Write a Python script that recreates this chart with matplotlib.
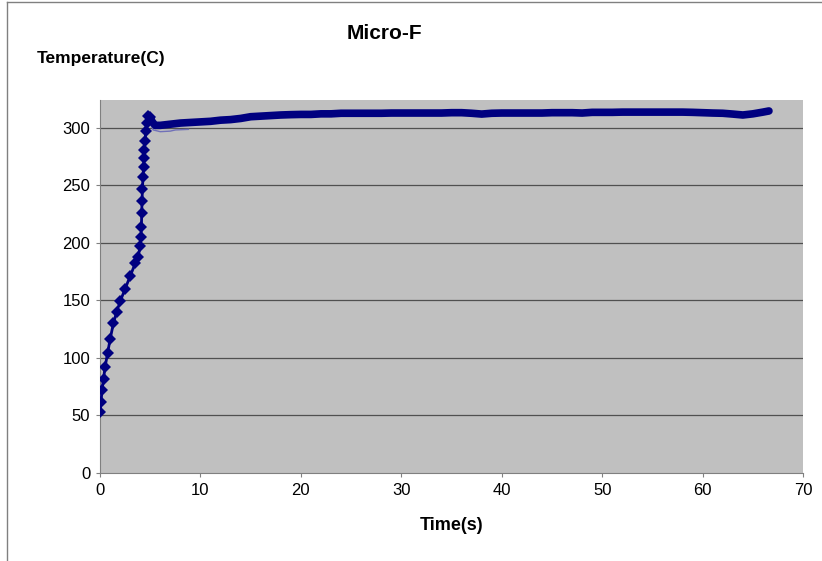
# Micro-F temperature vs time trace.

import matplotlib
matplotlib.use('Agg')
import matplotlib.pyplot as plt
from matplotlib.lines import Line2D

plt.rcParams['font.family'] = ['Liberation Sans', 'DejaVu Sans']

# Rise phase.
rise_time = [0.0, 0.1, 0.2, 0.35, 0.5, 0.75, 1.0, 1.33, 1.66, 2.0, 2.5, 3.0,
             3.5, 3.8, 4.0, 4.08, 4.12, 4.15, 4.18, 4.22, 4.28, 4.33, 4.38,
             4.42, 4.48, 4.55, 4.65, 4.8, 5.0]
rise_temp = [53, 62, 72, 82, 92, 104, 116, 130, 140, 149, 160, 171,
             182, 188, 197, 205, 214, 226, 236, 247, 257, 266, 274,
             281, 288, 297, 304, 310, 309]

# Steady phase.
steady_time = [5.0, 5.2, 5.5, 6, 7, 8, 9, 10, 11, 12, 13, 14, 15, 16, 17, 18,
               19, 20, 21, 22, 23, 24, 25, 26, 27, 28, 29, 30, 31, 32, 33, 34,
               35, 36, 37, 38, 39, 40, 41, 42, 43, 44, 45, 46, 47, 48, 49, 50,
               51, 52, 53, 54, 55, 56, 57, 58, 59, 60, 61, 62, 63, 64, 65, 66,
               66.6]
steady_temp = [309, 305, 302, 302, 303, 304, 304.5, 305, 305.5, 306.5, 307,
               308, 309.5, 310, 310.5, 311, 311.3, 311.5, 311.5, 312, 312,
               312.5, 312.5, 312.5, 312.5, 312.5, 312.7, 312.7, 312.7, 312.7,
               312.7, 312.7, 313, 313, 312.5, 311.8, 312.5, 312.7, 312.7,
               312.7, 312.7, 312.7, 313, 313, 313, 312.7, 313.3, 313.3, 313.3,
               313.5, 313.5, 313.5, 313.5, 313.5, 313.5, 313.5, 313.3, 313,
               312.7, 312.5, 311.8, 311, 312, 313.5, 314.5]

# Faint second trace just under the knee.
faint_time = [4.9, 5.3, 6.0, 7.0, 7.5, 8.8]
faint_temp = [305, 298, 296.5, 297, 298, 298.5]

fig = plt.figure(figsize=(8.22, 5.61), dpi=100)
ax = fig.add_axes([0.1217, 0.1569, 0.8553, 0.6648])
ax.set_facecolor('#c0c0c0')

for y in [50, 100, 150, 200, 250, 300]:
    ax.axhline(y, color='#505050', lw=0.9, zorder=1)

ax.plot(faint_time, faint_temp, color='#7070b8', lw=1, zorder=2)
ax.plot(steady_time, steady_temp, color='#000080', lw=5.5,
        solid_capstyle='round', solid_joinstyle='round', zorder=3)
ax.plot(rise_time, rise_temp, color='#000080', lw=2, marker='D',
        markersize=6, markeredgewidth=0, zorder=4)

ax.set_xlim(0, 70)
ax.set_ylim(0, 324)
ax.set_xticks(range(0, 71, 10))
ax.set_yticks(range(0, 301, 50))
ax.tick_params(labelsize=12, length=3, color='#808080', pad=4)

for side in ['top', 'right']:
    ax.spines[side].set_visible(False)
for side in ['left', 'bottom']:
    ax.spines[side].set_color('#808080')

ax.set_xlabel('Time(s)', fontsize=13, fontweight='bold', labelpad=14)
fig.text(0.468, 0.94, 'Micro-F', fontsize=15, fontweight='bold', ha='center', va='center')
fig.text(0.045, 0.896, 'Temperature(C)', fontsize=12.5, fontweight='bold', ha='left', va='center')

# Figure border on the left and top.
fig.add_artist(Line2D([0.009, 0.009], [0, 0.997], color='#808080', lw=1, transform=fig.transFigure))
fig.add_artist(Line2D([0.009, 1.0], [0.997, 0.997], color='#808080', lw=1, transform=fig.transFigure))

fig.savefig('out.png', dpi=100)
